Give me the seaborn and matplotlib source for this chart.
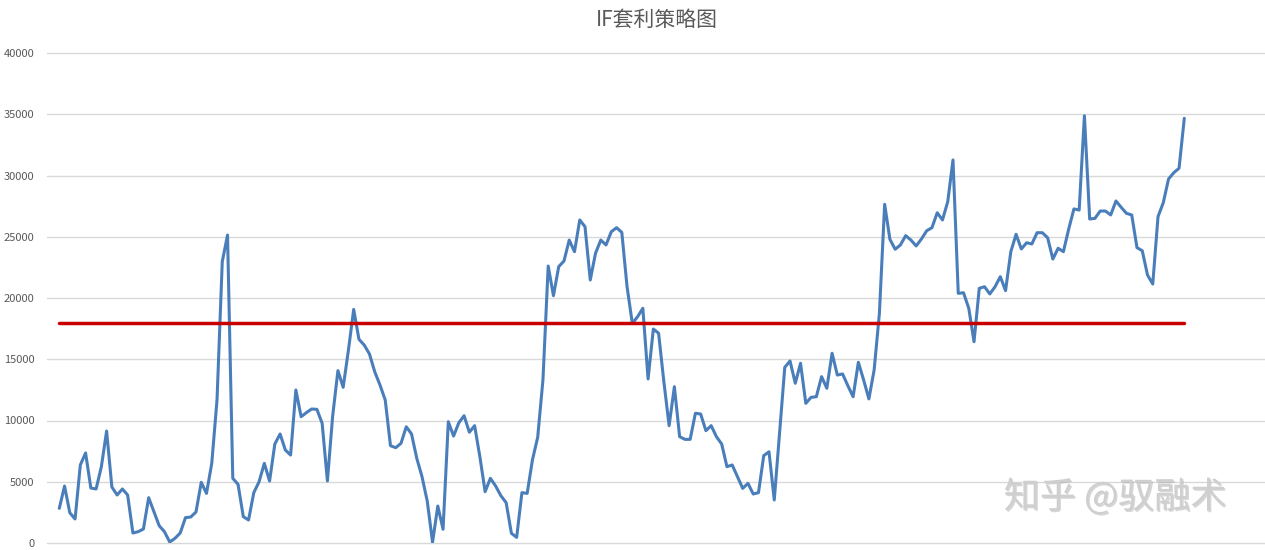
import pandas as pd
import seaborn as sns
import matplotlib.pyplot as plt
import matplotlib.patheffects as pe

# spread values (one per trading day)
spread = [
    2830, 4650, 2470, 1960, 6370, 7350, 4490, 4410, 6230, 9140,
    4570, 3920, 4410, 3920, 815, 925, 1140, 3700, 2560, 1410,
    925, 80, 380, 815, 2070, 2120, 2530, 4950, 4050, 6500,
    11670, 22970, 25140, 5280, 4790, 2150, 1880,
    4110, 5000, 6500, 5060, 8080, 8900, 7590, 7180, 12490, 10310,
    10640, 10940, 10910, 9770, 5060, 10370, 14070, 12710, 15750, 19070,
    16630, 16160, 15430, 13980, 12900, 11670, 7940, 7780, 8140, 9490,
    8900, 6910, 5410, 3400,
    60, 3020, 1120, 9900, 8730, 9820, 10390, 9040, 9580, 7050,
    4190, 5280, 4650, 3860, 3290, 790, 460, 4110, 4050, 6780,
    8630, 13310, 22610, 20190, 22560, 23020, 24730, 23780, 26370, 25820,
    21470, 23650, 24730, 24330, 25410, 25740,
    25360, 20920, 17930, 18470, 19160, 13390, 17470, 17120, 13170, 9580,
    12760, 8680, 8460, 8460, 10590, 10530, 9170, 9580, 8680, 8080,
    6230, 6370, 5410, 4460, 4870, 4000, 4110, 7130, 7450, 3510,
    8950, 14340, 14860, 13040, 14670,
    11400, 11890, 11940, 13580, 12630, 15490, 13710, 13800, 12840, 11940,
    14750, 13310, 11760, 14120, 18750, 27650, 24790, 23980, 24330, 25090,
    24730, 24250, 24820, 25490, 25740, 26960, 26370, 27860, 31270, 20380,
    20430, 19160, 16430, 20790,
    20920, 20330, 20920, 21740, 20600, 23780, 25200, 24000, 24510, 24410,
    25330, 25330, 24920, 23180, 24060, 23780, 25610, 27270, 27180, 34880,
    26450, 26500, 27100, 27100, 26780, 27920, 27400, 26910, 26780, 24110,
    23860, 21880, 21140, 26640, 27780, 29710, 30230, 30590, 34670,
]
threshold = 18000
y_ticks = list(range(0, 40001, 5000))
title = "IF套利策略图"
watermark = "知乎 @驭融术"

df = pd.DataFrame({
    "day": range(len(spread)),
    "spread": spread,
    "threshold": threshold,
})

sns.set_theme(style="white")
plt.rcParams["font.family"] = ["Noto Sans CJK SC", "DejaVu Sans"]

fig = plt.figure(figsize=(12.65, 5.5), dpi=100)
ax = fig.add_axes([47 / 1265, 7 / 550, 1 - 47 / 1265, 490 / 550])

sns.lineplot(data=df, x="day", y="spread", color="#4a7ebb", linewidth=2.2, ax=ax)
sns.lineplot(data=df, x="day", y="threshold", color="#c80000", linewidth=2.5, ax=ax)

# category spacing so the series spans the same width as the original
step = 1125 / (len(spread) - 1)
ax.set_xlim(-(59.3 - 47) / step, len(spread) - 1 + (1265 - 1184.3) / step)
ax.set_ylim(0, 40000)
ax.set_yticks(y_ticks)
ax.set_xticks([])
ax.set_xlabel("")
ax.set_ylabel("")
ax.yaxis.grid(True, color="#d9d9d9", linewidth=1)
for g in ax.get_ygridlines():
    g.set_clip_on(False)
ax.set_axisbelow(True)
for s in ax.spines.values():
    s.set_visible(False)
ax.tick_params(axis="y", length=0, pad=9, labelsize=8, labelcolor="#595959")

fig.text(0.519, 1 - 20 / 550, title, ha="center", va="center",
         fontsize=15, color="#595959", fontweight="light")
fig.text(0.8815, 0.096, watermark, ha="center", va="center", fontsize=26,
         color="#cfcfcf", fontweight="medium",
         path_effects=[pe.withSimplePatchShadow(offset=(1, -1), shadow_rgbFace="#8c8c8c", alpha=0.35)])

fig.savefig("out.png", dpi=100)
